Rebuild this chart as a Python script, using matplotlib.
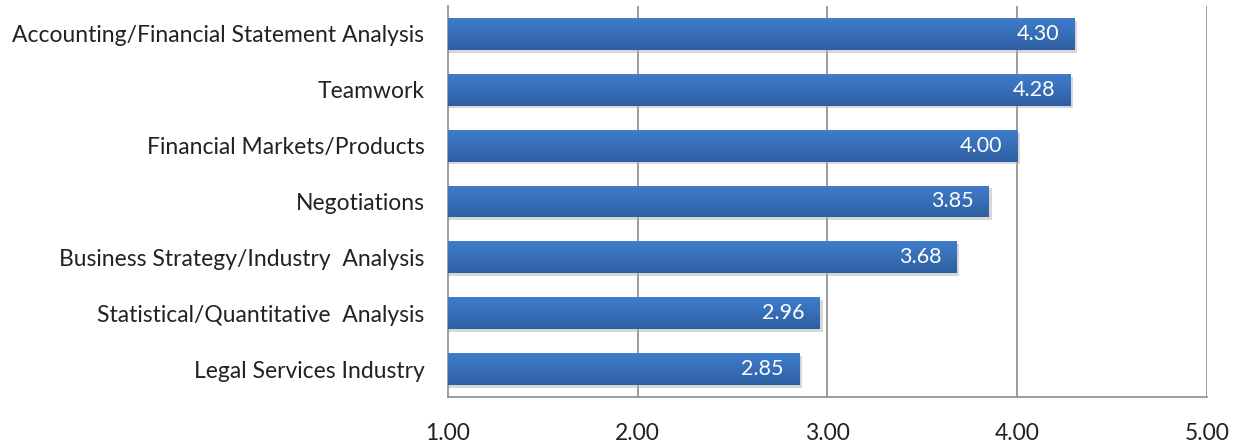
#!/usr/bin/env python3
# Horizontal bar chart: average skill ratings

import matplotlib
matplotlib.use("Agg")
import matplotlib.pyplot as plt
import numpy as np

# -----------------------------------------------------------------------------
# Data
# -----------------------------------------------------------------------------

categories = [
    "Accounting/Financial Statement Analysis",
    "Teamwork",
    "Financial Markets/Products",
    "Negotiations",
    "Business Strategy/Industry  Analysis",
    "Statistical/Quantitative  Analysis",
    "Legal Services Industry",
]
scores = [4.30, 4.28, 4.00, 3.85, 3.68, 2.96, 2.85]
x_ticks = [1.00, 2.00, 3.00, 4.00, 5.00]

# -----------------------------------------------------------------------------
# Style
# -----------------------------------------------------------------------------

FONT = ["Lato", "DejaVu Sans"]
BAR_TOP = np.array([0.25, 0.49, 0.80])
BAR_BOTTOM = np.array([0.18, 0.37, 0.63])
GRID_COLOR = "#8c8c8c"
BAR_HEIGHT = 0.57
FS_LABEL = 16.5
FS_VALUE = 15.5


def main() -> None:
    plt.rcParams["font.family"] = FONT

    fig = plt.figure(figsize=(12.42, 4.43), dpi=100)
    ax = fig.add_axes([0.3607, 0.1038, 0.6111, 0.8827])

    ypos = np.arange(len(categories))

    # vertical gridlines
    for t in x_ticks[1:]:
        ax.axvline(t, color=GRID_COLOR, lw=1.2, zorder=1)

    # gradient image for bar fill
    grad = np.linspace(0, 1, 64)[:, None, None]
    grad_img = BAR_TOP * (1 - grad) + BAR_BOTTOM * grad
    grad_img = np.repeat(grad_img, 2, axis=1)

    bars = ax.barh(ypos, [s - 1.0 for s in scores], left=1.0,
                   height=BAR_HEIGHT, color="none", edgecolor="none", zorder=3)

    for bar, val in zip(bars, scores):
        x0, y0 = bar.get_x(), bar.get_y()
        w, h = bar.get_width(), bar.get_height()
        # soft shadow
        ax.barh(y0 + h / 2 + 0.05, w + 0.015, left=x0, height=h,
                color="#b0b0b0", alpha=0.5, edgecolor="none", zorder=2)
        im = ax.imshow(grad_img, extent=(x0, x0 + w, y0 + h, y0),
                       aspect="auto", zorder=3, interpolation="bilinear")
        im.set_clip_path(bar)
        ax.text(x0 + w - 0.08, y0 + h / 2, f"{val:.2f}", color="white",
                ha="right", va="center", fontsize=FS_VALUE, zorder=4)

    ax.set_xlim(1.0, 5.0)
    ax.set_ylim(len(categories) - 0.5, -0.5)

    ax.set_yticks(ypos)
    ax.set_yticklabels(categories, fontsize=FS_LABEL, color="#222222")
    ax.set_xticks(x_ticks)
    ax.set_xticklabels([f"{t:.2f}" for t in x_ticks], fontsize=FS_LABEL,
                       color="#222222")
    ax.tick_params(axis="both", length=0)
    ax.tick_params(axis="y", pad=17)
    ax.tick_params(axis="x", pad=19)

    for side in ("top", "right"):
        ax.spines[side].set_visible(False)
    for side in ("left", "bottom"):
        ax.spines[side].set_color(GRID_COLOR)
        ax.spines[side].set_linewidth(1.2)

    fig.savefig("out.png", dpi=100)


if __name__ == "__main__":
    main()
